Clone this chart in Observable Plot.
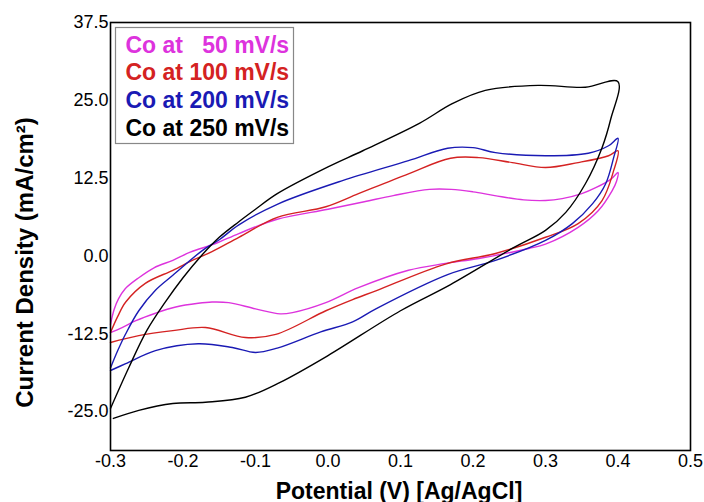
<!DOCTYPE html>
<html><head><meta charset="utf-8">
<script src="https://cdn.jsdelivr.net/npm/d3@7"></script>
<script src="https://cdn.jsdelivr.net/npm/@observablehq/plot@0.6"></script>
<style>body{margin:0;background:#fff;}</style>
</head><body><div id="chart"></div>
<script>
// Series names and colours
const series = ["Co at 50 mV/s", "Co at 100 mV/s", "Co at 200 mV/s", "Co at 250 mV/s"];
const legendLabels = ["Co at \u00a0\u00a050 mV/s", "Co at 100 mV/s", "Co at 200 mV/s", "Co at 250 mV/s"];
const colors = ["#dd33dd", "#d42222", "#1a1ab4", "#000000"];

// Tick values
const xTicks = [-0.3, -0.2, -0.1, 0.0, 0.1, 0.2, 0.3, 0.4, 0.5];
const yTicks = [-25.0, -12.5, 0.0, 12.5, 25.0, 37.5];

// 50 mV/s loop (forward scan then reverse scan)
const potential50 = [-0.300,-0.295,-0.289,-0.280,-0.261,-0.240,-0.214,-0.190,-0.155,-0.123,-0.070,0.000,0.050,0.090,0.140,0.170,0.200,0.230,0.270,0.300,0.323,0.350,0.370,0.390,0.400,
  0.398,0.392,0.373,0.345,0.300,0.277,0.208,0.162,0.111,0.042,-0.003,-0.049,-0.066,-0.100,-0.137,-0.160,-0.179,-0.210,-0.238,-0.265,-0.284,-0.300];
const current50 = [-11.0,-8.6,-6.9,-5.3,-3.5,-1.9,-0.7,0.6,2.0,3.6,5.9,7.5,8.7,9.7,10.7,10.7,10.3,9.7,9.0,8.9,9.2,10.0,11.0,12.3,13.4,
  12.0,10.5,7.3,4.6,1.9,1.2,-0.4,-1.2,-2.3,-5.1,-7.5,-9.1,-9.3,-8.5,-7.5,-7.4,-7.6,-8.2,-9.2,-10.4,-11.5,-12.3];

// 100 mV/s loop
const potential100 = [-0.300,-0.290,-0.279,-0.252,-0.214,-0.185,-0.160,-0.123,-0.070,-0.003,0.042,0.111,0.169,0.208,0.254,0.300,0.345,0.387,0.400,
  0.394,0.378,0.345,0.300,0.231,0.162,0.066,0.034,-0.003,-0.072,-0.114,-0.169,-0.214,-0.261,-0.300];
const current100 = [-12.3,-9.7,-7.4,-4.4,-2.3,-0.6,0.7,3.0,6.2,7.9,10.0,13.2,15.7,15.8,15.0,14.2,15.0,16.1,16.9,
  13.7,8.9,5.2,3.0,0.4,-1.3,-5.6,-7.0,-8.8,-12.6,-13.1,-11.5,-12.0,-12.8,-13.9];

// 200 mV/s loop
const potential200 = [-0.300,-0.290,-0.279,-0.261,-0.238,-0.214,-0.173,-0.150,-0.123,-0.070,0.020,0.111,0.165,0.200,0.231,0.300,0.359,0.387,0.400,
  0.394,0.383,0.365,0.337,0.300,0.231,0.165,0.066,0.034,-0.010,-0.070,-0.100,-0.132,-0.179,-0.238,-0.279,-0.300];
const current200 = [-18.0,-15.2,-12.5,-8.8,-5.5,-3.1,0.9,2.6,5.0,8.3,12.1,15.3,17.3,17.4,16.6,16.1,16.5,17.7,18.9,
  15.8,11.6,8.4,5.2,2.5,-0.7,-3.0,-8.5,-10.6,-12.2,-14.8,-15.5,-14.7,-14.1,-15.2,-17.3,-18.4];

// 250 mV/s loop
const potential250 = [-0.300,-0.275,-0.250,-0.225,-0.200,-0.175,-0.150,-0.123,-0.100,-0.070,0.000,0.048,0.126,0.172,0.217,0.290,0.355,0.400,
  0.390,0.378,0.355,0.328,0.300,0.254,0.169,0.100,0.000,-0.066,-0.114,-0.169,-0.214,-0.261,-0.296];
const current250 = [-24.5,-18.0,-12.0,-7.5,-3.5,0.0,3.0,5.5,7.5,10.0,14.3,16.9,21.3,24.5,26.6,27.4,27.1,28.0,
  22.0,17.4,11.6,7.0,4.1,1.2,-4.6,-8.8,-16.0,-20.3,-22.7,-23.5,-23.7,-24.8,-26.1];

const potentials = [potential50, potential100, potential200, potential250];
const currents = [current50, current100, current200, current250];
const rows = series.flatMap((s, k) => potentials[k].map((p, i) => ({series: s, potential: p, current: currents[k][i]})));

const font = "Arial, 'Liberation Sans', sans-serif";
const legendMarks = legendLabels.map((t, i) => Plot.text([t], {
  text: d => d, frameAnchor: "top-left", textAnchor: "start", lineAnchor: "bottom",
  dx: 15, dy: 30 + i * 27.7, fill: colors[i], fontSize: 23, fontWeight: "bold"
}));

const chart = Plot.plot({
  width: 704, height: 502,
  marginLeft: 110, marginRight: 14, marginTop: 22, marginBottom: 52,
  style: {fontFamily: font, background: "#fff", color: "#000"},
  x: {domain: [-0.3, 0.5], label: null},
  y: {domain: [-31.25, 37.5], label: null},
  color: {domain: series, range: colors},
  marks: [
    Plot.line(rows, {x: "potential", y: "current", z: "series", stroke: "series", strokeWidth: 1.4, curve: "catmull-rom"}),
    Plot.axisX(xTicks, {tickSize: 0, tickPadding: 4, fontSize: 18, tickFormat: d => d.toFixed(1), label: null}),
    Plot.axisY(yTicks, {tickSize: 0, tickPadding: 2, fontSize: 18, tickFormat: d => d.toFixed(1), label: null}),
    Plot.frame({stroke: "#888", strokeWidth: 1.2, fill: "white", insetLeft: 5, insetTop: 5, insetRight: 397, insetBottom: 307}),
    ...legendMarks,
    Plot.text(["Current Density (mA/cm\u00b2)"], {text: d => d, frameAnchor: "left", rotate: -90, textAnchor: "middle", lineAnchor: "middle", dx: -85, dy: 26, fontSize: 24, fontWeight: "bold"}),
    Plot.text(["Potential (V) [Ag/AgCl]"], {text: d => d, frameAnchor: "bottom", textAnchor: "middle", lineAnchor: "bottom", dx: -1.5, dy: 48, fontSize: 23, fontWeight: "bold"}),
    Plot.frame({stroke: "black", strokeWidth: 1.6})
  ]
});
document.getElementById("chart").append(chart);
</script>
</body></html>
